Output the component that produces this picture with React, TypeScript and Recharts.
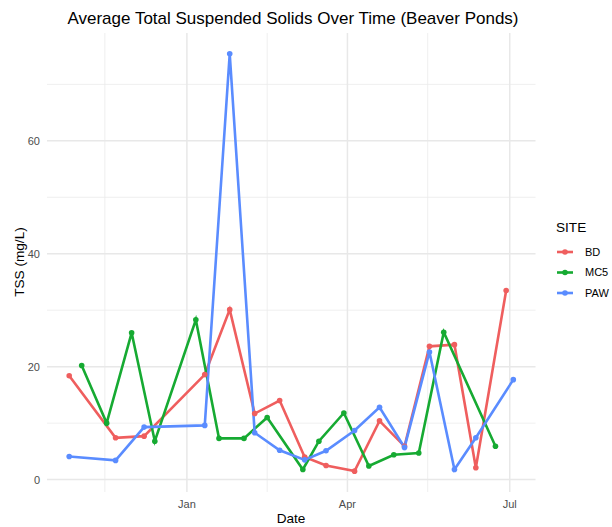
import React from "react";
import { LineChart, Line, XAxis, YAxis, CartesianGrid } from "recharts";

// ---- data ----
const siteNames = ["BD", "MC5", "PAW"];
const siteColors = ["#EF5E5E", "#16AA32", "#5A8CFF"];

const bdDates = ["2022-10-27","2022-11-22","2022-12-08","2023-01-11","2023-01-25","2023-02-08","2023-02-22","2023-03-08","2023-03-20","2023-04-05","2023-04-19","2023-05-03","2023-05-17","2023-05-31","2023-06-12","2023-06-29"];
const bdValues = [18.4, 7.4, 7.7, 18.6, 30.1, 11.7, 14.0, 4.0, 2.5, 1.5, 10.4, 5.9, 23.6, 23.9, 2.1, 33.5];

const mc5Dates = ["2022-11-03","2022-11-17","2022-12-01","2022-12-14","2023-01-06","2023-01-19","2023-02-02","2023-02-15","2023-03-07","2023-03-16","2023-03-30","2023-04-13","2023-04-27","2023-05-11","2023-05-25","2023-06-23"];
const mc5Values = [20.2, 10.0, 26.0, 6.8, 28.3, 7.3, 7.3, 11.0, 1.8, 6.8, 11.8, 2.4, 4.4, 4.7, 26.1, 5.9];

const pawDates = ["2022-10-27","2022-11-22","2022-12-08","2023-01-11","2023-01-25","2023-02-08","2023-02-22","2023-03-08","2023-03-20","2023-04-05","2023-04-19","2023-05-03","2023-05-17","2023-05-31","2023-06-12","2023-07-03"];
const pawValues = [4.1, 3.4, 9.3, 9.6, 75.4, 8.3, 5.2, 3.5, 5.1, 8.7, 12.8, 5.7, 22.6, 1.8, 7.4, 17.7];

const xMajorDates = ["2023-01-01", "2023-04-01", "2023-07-01"];
const xMajorLabels = ["Jan", "Apr", "Jul"];
const xMinorDates = ["2022-11-16", "2023-02-15", "2023-05-16"];
const yMajorTicks = [0, 20, 40, 60];
const yMinorTicks = [10, 30, 50, 70];

// ---- helpers ----
const ORIGIN = Date.UTC(2023, 0, 1);
const toDay = (s: string) => {
  const [y, m, d] = s.split("-").map(Number);
  return (Date.UTC(y, m - 1, d) - ORIGIN) / 86400000;
};
const build = (dates: string[], vals: number[]) =>
  dates.map((d, i) => ({ x: toDay(d), y: vals[i] }));

const series = [
  build(bdDates, bdValues),
  build(mc5Dates, mc5Values),
  build(pawDates, pawValues),
];

const allX = series.flat().map((p) => p.x);
const allY = series.flat().map((p) => p.y);
const expand = (lo: number, hi: number): [number, number] => {
  const pad = (hi - lo) * 0.05;
  return [lo - pad, hi + pad];
};
const xDomain = expand(Math.min(...allX), Math.max(...allX));
const yDomain = expand(Math.min(...allY), Math.max(...allY));

const xMajor = xMajorDates.map(toDay);
const xMinor = xMinorDates.map(toDay);
const labelFor = (v: number) => {
  const i = xMajor.indexOf(v);
  return i >= 0 ? xMajorLabels[i] : "";
};

const FONT = '"Liberation Sans", Arial, Helvetica, sans-serif';

export default function App() {
  return (
    <div
      style={{
        position: "absolute",
        left: 0,
        top: 0,
        width: 612,
        height: 527,
        background: "#fff",
        fontFamily: FONT,
      }}
    >
      <LineChart
        width={612}
        height={527}
        margin={{ top: 33, right: 76.5, bottom: 15, left: 0 }}
        style={{ fontFamily: FONT }}
      >
        <CartesianGrid
          stroke="#ebebeb"
          strokeWidth={0.8}
          horizontalValues={yMinorTicks}
          verticalValues={xMinor}
        />
        <CartesianGrid
          stroke="#e8e8e8"
          strokeWidth={1.5}
          horizontalValues={yMajorTicks}
          verticalValues={xMajor}
        />
        <XAxis
          type="number"
          dataKey="x"
          domain={xDomain}
          ticks={xMajor}
          tickFormatter={labelFor}
          allowDataOverflow
          axisLine={false}
          tickLine={false}
          tickSize={0}
          tickMargin={8}
          height={20}
          tick={{ fill: "#4d4d4d", fontSize: 11 }}
        />
        <YAxis
          type="number"
          dataKey="y"
          domain={yDomain}
          ticks={yMajorTicks}
          allowDataOverflow
          axisLine={false}
          tickLine={false}
          tickSize={0}
          tickMargin={7}
          width={47}
          tick={{ fill: "#4d4d4d", fontSize: 11 }}
        />
        {series.map((data, i) => (
          <Line
            key={siteNames[i]}
            data={data}
            dataKey="y"
            name={siteNames[i]}
            type="linear"
            stroke={siteColors[i]}
            strokeWidth={2.6}
            dot={{ r: 2.8, fill: siteColors[i], stroke: siteColors[i], strokeWidth: 0 }}
            activeDot={false}
            isAnimationActive={false}
          />
        ))}
      </LineChart>
      <svg
        width={612}
        height={527}
        style={{ position: "absolute", left: 0, top: 0, pointerEvents: "none", fontFamily: FONT }}
      >
        <text x={293} y={24} textAnchor="middle" fontSize={17} fill="#000">
          Average Total Suspended Solids Over Time (Beaver Ponds)
        </text>
        <text x={291} y={523} textAnchor="middle" fontSize={13.6} fill="#000">
          Date
        </text>
        <text
          x={0}
          y={0}
          transform="translate(23.5 262) rotate(-90)"
          textAnchor="middle"
          fontSize={13.6}
          fill="#000"
        >
          TSS (mg/L)
        </text>
        <text x={556} y={232} fontSize={13.6} fill="#000">
          SITE
        </text>
        {siteNames.map((n, i) => (
          <g key={n}>
            <line x1={557} x2={573} y1={252 + i * 20.5} y2={252 + i * 20.5} stroke={siteColors[i]} strokeWidth={2.6} />
            <circle cx={565} cy={252 + i * 20.5} r={2.8} fill={siteColors[i]} />
            <text x={585} y={252 + i * 20.5} dy="0.35em" fontSize={11} fill="#000">
              {n}
            </text>
          </g>
        ))}
      </svg>
    </div>
  );
}
